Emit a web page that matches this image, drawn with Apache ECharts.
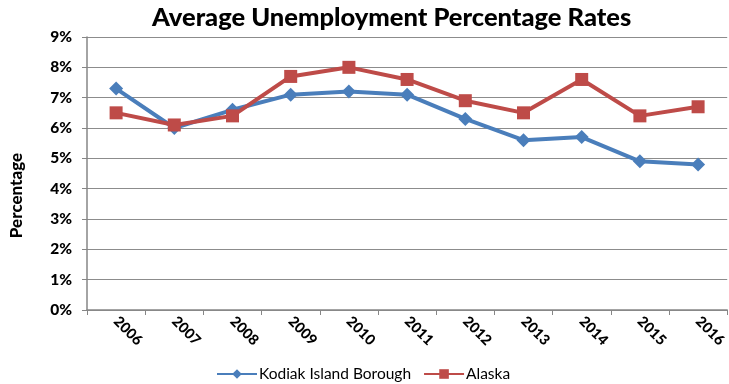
<!DOCTYPE html>
<html>
<head>
<meta charset="utf-8">
<script src="https://cdn.jsdelivr.net/npm/echarts@6/dist/echarts.min.js"></script>
<style>html,body{margin:0;padding:0;background:#fff}#c{width:729px;height:384px}</style>
</head>
<body>
<div id="c"></div>
<script>
var years = ['2006','2007','2008','2009','2010','2011','2012','2013','2014','2015','2016'];
var kodiak = [7.3, 6.0, 6.6, 7.1, 7.2, 7.1, 6.3, 5.6, 5.7, 4.9, 4.8];
var alaska = [6.5, 6.1, 6.4, 7.7, 8.0, 7.6, 6.9, 6.5, 7.6, 6.4, 6.7];
var titleText = 'Average Unemployment Percentage Rates';
var seriesNames = ['Kodiak Island Borough', 'Alaska'];

var font = 'Lato, "Open Sans", sans-serif';
var chart = echarts.init(document.getElementById('c'), null, {renderer:'canvas'});
chart.setOption({
  animation: false,
  title: {
    text: titleText,
    left: 147, top: 0,
    textStyle: {fontFamily: font, fontWeight: 900, fontSize: 25.5, color: '#000'}
  },
  legend: {
    left: 211, top: 361,
    itemWidth: 40, itemHeight: 12, itemGap: 12,
    textStyle: {fontFamily: font, fontSize: 15.5, color: '#000', padding: [0,0,0,-3]},
    data: seriesNames
  },
  grid: {left: 86, right: -4, top: 37, bottom: 74, containLabel: false},
  xAxis: {
    type: 'category', data: years, boundaryGap: true,
    axisLine: {lineStyle: {color: '#868686', width: 1.5}},
    axisTick: {show: true, length: 5, lineStyle: {color: '#868686'}},
    axisLabel: {rotate: -45, fontFamily: font, fontWeight: 900, fontSize: 14.5, color: '#000', margin: 9}
  },
  yAxis: {
    type: 'value', min: 0, max: 9, interval: 1,
    name: 'Percentage', nameLocation: 'middle', nameGap: 62, nameRotate: 90,
    nameTextStyle: {fontFamily: font, fontWeight: 900, fontSize: 17, color: '#000', padding: [0, 44, 0, 0]},
    axisLine: {show: true, lineStyle: {color: '#868686', width: 1.5}},
    axisTick: {show: true, length: 5, lineStyle: {color: '#868686'}},
    splitLine: {lineStyle: {color: '#8c8c8c', width: 1.2}},
    axisLabel: {formatter: '{value}%', fontFamily: font, fontWeight: 900, fontSize: 15.5, color: '#000', margin: 15}
  },
  series: [
    {name: seriesNames[0], type: 'line', data: kodiak, symbol: 'diamond', symbolSize: 14,
     lineStyle: {color: '#4a7ebb', width: 4}, itemStyle: {color: '#4a7ebb'}},
    {name: seriesNames[1], type: 'line', data: alaska, symbol: 'rect', symbolSize: 13,
     lineStyle: {color: '#be4b48', width: 4}, itemStyle: {color: '#be4b48'}}
  ]
});
</script>
</body>
</html>
